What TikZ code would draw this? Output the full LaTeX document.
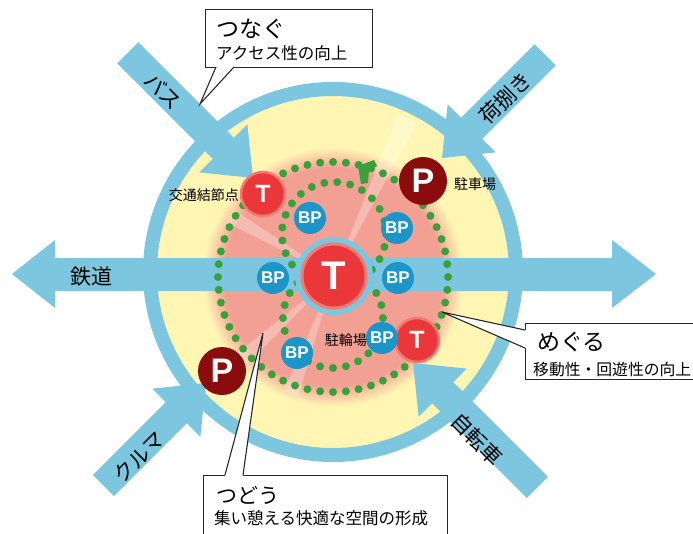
\documentclass[tikz,border=0pt]{standalone}
\usepackage{fontspec}
\setmainfont{Noto Sans CJK JP}
\newfontfamily\lat{Liberation Sans}
\usetikzlibrary{calc}
\definecolor{skyb}{RGB}{125,198,223}
\definecolor{yel}{RGB}{255,246,180}
\definecolor{pinkc}{RGB}{242,160,148}
\definecolor{redT}{RGB}{234,56,58}
\definecolor{rimc}{RGB}{244,122,114}
\definecolor{darkP}{RGB}{138,12,12}
\definecolor{bpb}{RGB}{28,150,200}
\definecolor{dotg}{RGB}{58,160,58}
\definecolor{boxln}{RGB}{40,40,40}
\pgfdeclareradialshading{pinkfade}{\pgfpoint{0bp}{0bp}}{color(0bp)=(pinkc); color(21bp)=(pinkc); color(25bp)=(yel); color(50bp)=(yel)}
\newcommand\fsz[1]{\fontsize{#1}{#1}\selectfont}
\newcommand\fatarr[3]{\fill[skyb, shift={(#1)}, rotate=#2] (0,0) -- (-42,-34) -- (-42,-15) -- (-#3,-15) -- (-#3,15) -- (-42,15) -- (-42,34) -- cycle;}
\newcommand\dotring[4]{\foreach \i in {1,...,#4} \fill[dotg] ($(#1,#2)+({360/#4*\i}:#3)$) circle (4);}
\tikzset{
  bpnode/.style={circle, fill=bpb, text=white, font=\lat\bfseries\fsz{17}, minimum size=32, inner sep=0},
  tnode/.style={circle, fill=redT, draw=rimc, line width=2.5, text=white, font=\lat\bfseries\fsz{25}, minimum size=44, inner sep=0},
  pnode/.style={circle, fill=darkP, text=white, font=\lat\bfseries\fsz{34}, minimum size=48, inner sep=0},
  lbl/.style={inner sep=0, font=\fsz{14}},
  arrlbl/.style={inner sep=0, font=\fsz{21}},
  boxnode/.style={draw=boxln, fill=white, line width=1.3, inner sep=0, anchor=north west},
  ptr/.style={draw=boxln, line width=1.1},
}
\begin{document}
\begin{tikzpicture}[x=1pt,y=-1pt]
\useasboundingbox (0,0) rectangle (693,533);
\clip (0,0) rectangle (693,533);
% main disc
\fill[yel] (333,272) circle (178);
\begin{scope}
  \clip (333,272) circle (178);
  \shade[shading=pinkfade] (333,277) circle (130);
  \foreach \a/\r in {-65/175,-150/120,-222/150,-250/125}
    \fill[white, opacity=0.28] (334,276) -- ($(334,276)+(\a-3.5:\r)$) -- ($(334,276)+(\a+3.5:\r)$) -- cycle;
\end{scope}
% horizontal double arrow
\fill[skyb] (12,274) -- (55,240) -- (55,258) -- (612,258) -- (612,240) -- (656,274) -- (612,308) -- (612,291) -- (55,291) -- (55,308) -- cycle;
% ring
\draw[skyb, line width=14] (333,272) circle (183);
% diagonal arrows
\fatarr{253,178}{-45}{177}
\fatarr{442,158}{-135}{146}
\fatarr{206,383}{45}{145}
\fatarr{413,363}{135}{176}
% dotted loops
\dotring{333}{277}{115}{56}
\dotring{334}{234}{52}{25}
\dotring{333}{318}{50}{24}
\fill[dotg] (358,166) -- (374,160) -- (377,166) -- (369,170) -- (368,183) -- (361,184) -- cycle;
% centre
\node[circle, fill=skyb, minimum size=78, inner sep=0] (ctr) at (334,276) {};
\node[tnode, minimum size=64, line width=3, font=\lat\bfseries\fsz{40}] (T0) at (334,276) {T};
% nodes
\node[tnode] (T1) at (263,194) {T};
\node[tnode] (T2) at (417,340) {T};
\node[pnode] (P1) at (423,181) {P};
\node[pnode] (P2) at (222,371) {P};
\node[bpnode] (B1) at (310,218) {BP};
\node[bpnode] (B2) at (397,228) {BP};
\node[bpnode] (B3) at (273,278) {BP};
\node[bpnode] (B4) at (398,278) {BP};
\node[bpnode] (B5) at (382,338) {BP};
\node[bpnode] (B6) at (297,353) {BP};
% labels
\node[lbl, anchor=east] (l1) at (239,195) {交通結節点};
\node[lbl, anchor=west] (l2) at (454,184) {駐車場};
\node[lbl, anchor=east] (l3) at (367,340) {駐輪場};
\node[arrlbl] (a0) at (91,277) {鉄道};
\node[arrlbl, rotate=-45] (a1) at (163,91) {バス};
\node[arrlbl, rotate=45] (a2) at (505,98) {荷捌き};
\node[arrlbl, rotate=45] (a3) at (139,457) {クルマ};
\node[arrlbl, rotate=-45] (a4) at (477,439) {自転車};
% callout つなぐ
\node[boxnode, minimum width=167, minimum height=58] (bx1) at (205,9) {};
\coordinate (p1) at (200,104);
\fill[white] (216,62) -- (216,67) -- (p1) -- (234,67) -- (234,62) -- cycle;
\draw[ptr] (216,67) -- (p1) -- (234,67);
\node[inner sep=0, anchor=west, font=\fsz{23}] (t1a) at (216,29) {つなぐ};
\node[inner sep=0, anchor=west, font=\fsz{16.5}] (t1b) at (216,53) {アクセス性の向上};
% callout めぐる
\node[boxnode, minimum width=180, minimum height=56] (bx2) at (525,323) {};
\coordinate (p2) at (442,312);
\fill[white] (530,330) -- (525,330) -- (p2) -- (525,348) -- (530,348) -- cycle;
\draw[ptr] (525,330) -- (p2) -- (525,348);
\node[inner sep=0, anchor=west, font=\fsz{23}] (t2a) at (537,342) {めぐる};
\node[inner sep=0, anchor=west, font=\fsz{15.8}] (t2b) at (533,369) {移動性・回遊性の向上};
% callout つどう
\node[boxnode, minimum width=244, minimum height=80] (bx3) at (203,475) {};
\coordinate (p3) at (263,333);
\fill[white] (225,480) -- (225,475) -- (p3) -- (243,475) -- (243,480) -- cycle;
\draw[ptr] (225,475) -- (p3) -- (243,475);
\node[inner sep=0, anchor=west, font=\fsz{21}] (t3a) at (216,495) {つどう};
\node[inner sep=0, anchor=west, font=\fsz{16.5}] (t3b) at (214,518) {集い憩える快適な空間の形成};
\end{tikzpicture}
\end{document}
